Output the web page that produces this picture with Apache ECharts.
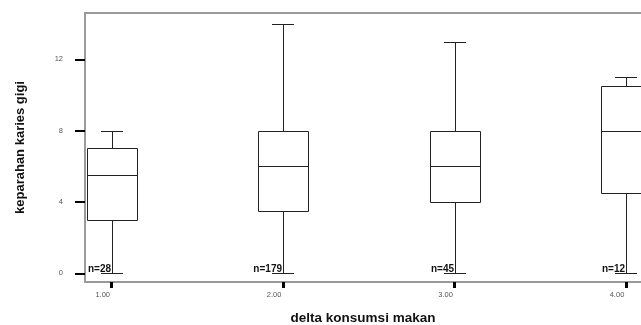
<!DOCTYPE html>
<html>
<head>
<meta charset="utf-8">
<script src="https://cdn.jsdelivr.net/npm/echarts@6/dist/echarts.min.js"></script>
<style>
html,body{margin:0;padding:0;background:#fff;}
#chart{width:641px;height:325px;}
</style>
</head>
<body>
<div id="chart"></div>
<script>
// Data
const groups = [1, 2, 3, 4];
const mins = [0, 0, 0, 0];
const q1s = [3, 3.5, 4, 4.5];
const medians = [5.5, 6, 6, 8];
const q3s = [7, 8, 8, 10.5];
const maxs = [8, 14, 13, 11];
const counts = [28, 179, 45, 12];
const yTicks = [0, 4, 8, 12];
const xTicks = [1, 2, 3, 4];

const data = groups.map((g, i) => [g, mins[i], q1s[i], medians[i], q3s[i], maxs[i], counts[i]]);

const FONT = '"Liberation Sans", Arial, sans-serif';
const BORDER = '#9a9a9a';

function px(v){ return Math.round(v) + 0.5; }

function renderItem(params, api) {
  const x = api.value(0);
  const pMin = api.coord([x, api.value(1)]);
  const pQ1 = api.coord([x, api.value(2)]);
  const pMed = api.coord([x, api.value(3)]);
  const pQ3 = api.coord([x, api.value(4)]);
  const pMax = api.coord([x, api.value(5)]);
  const n = api.value(6);
  const cx = Math.round(pMin[0]);
  const hw = 25, cw = 11;
  const lc = '#222';
  const ls = {stroke: lc, lineWidth: 1};
  const c = px(cx - 0.5);
  return {
    type: 'group',
    children: [
      {type: 'line', shape: {x1: c, y1: px(pQ3[1]), x2: c, y2: px(pMax[1])}, style: ls},
      {type: 'line', shape: {x1: c, y1: px(pQ1[1]), x2: c, y2: px(pMin[1])}, style: ls},
      {type: 'line', shape: {x1: cx - cw, y1: px(pMax[1]), x2: cx + cw, y2: px(pMax[1])}, style: ls},
      {type: 'line', shape: {x1: cx - cw, y1: px(pMin[1]), x2: cx + cw, y2: px(pMin[1])}, style: ls},
      {type: 'rect', shape: {x: px(cx - hw), y: px(pQ3[1]), width: 2 * hw, height: Math.round(pQ1[1]) - Math.round(pQ3[1])},
        style: {fill: '#fff', stroke: lc, lineWidth: 1}},
      {type: 'line', shape: {x1: cx - hw, y1: px(pMed[1]), x2: cx + hw, y2: px(pMed[1])}, style: ls},
      {type: 'text', style: {text: 'n=' + n, x: cx - 1, y: Math.round(pMin[1]) + 1.5, align: 'right', verticalAlign: 'bottom',
        font: 'bold 10px ' + FONT, fill: '#111'}}
    ]
  };
}

const chart = echarts.init(document.getElementById('chart'), null, {renderer: 'canvas'});
chart.setOption({
  animation: false,
  backgroundColor: '#fff',
  grid: {left: 85, right: 0, top: 13, bottom: 43, containLabel: false, outerBoundsMode: 'none'},
  xAxis: [{
    type: 'value', min: 0.844, max: 4.0875,
    name: 'delta konsumsi makan', nameLocation: 'middle', nameGap: 29,
    nameTextStyle: {fontFamily: FONT, fontWeight: 'bold', fontSize: 13.5, color: '#111'},
    axisLine: {show: true, onZero: false, lineStyle: {color: BORDER, width: 2}},
    axisTick: {show: true, inside: false, length: 6, lineStyle: {color: '#000', width: 3}, customValues: xTicks},
    axisLabel: {show: true, customValues: xTicks, margin: 9, fontFamily: FONT, fontSize: 7.5, color: '#555',
      padding: [0, 18, 0, 0], formatter: v => v.toFixed(2)},
    splitLine: {show: false}
  }, {
    type: 'value', position: 'top', min: 0.844, max: 4.0875,
    axisLine: {show: true, onZero: false, lineStyle: {color: BORDER, width: 2}},
    axisTick: {show: false}, axisLabel: {show: false}, splitLine: {show: false}
  }],
  yAxis: {
    type: 'value', min: -0.488, max: 14.6,
    name: 'keparahan karies gigi', nameLocation: 'middle', nameGap: 58, nameRotate: 90,
    nameTextStyle: {fontFamily: FONT, fontWeight: 'bold', fontSize: 13, color: '#111'},
    axisLine: {show: true, onZero: false, lineStyle: {color: BORDER, width: 2}},
    axisTick: {show: true, inside: false, length: 10, lineStyle: {color: '#000', width: 2}, customValues: yTicks},
    axisLabel: {show: true, customValues: yTicks, margin: 22, fontFamily: FONT, fontSize: 7.5, color: '#555'},
    splitLine: {show: false}
  },
  series: [{
    type: 'custom',
    renderItem: renderItem,
    data: data,
    clip: false,
    encode: {x: 0, y: [1, 2, 3, 4, 5]}
  }]
});
</script>
</body>
</html>
